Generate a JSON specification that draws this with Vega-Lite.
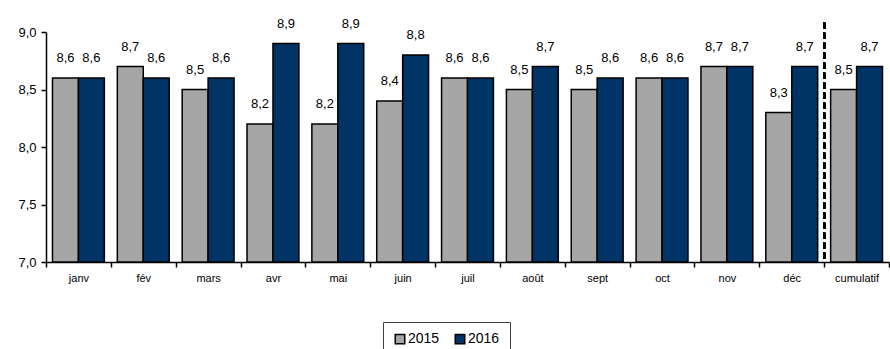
{
  "$schema": "https://vega.github.io/schema/vega-lite/v6.json",
  "width": 843,
  "height": 230,
  "padding": {"left": 46, "top": 32, "right": 1, "bottom": 87},
  "autosize": {"type": "none"},
  "background": "white",
  "config": {
    "locale": {"number": {"decimal": ",", "thousands": " ", "grouping": [3], "currency": ["", " €"]}},
    "font": "Liberation Sans",
    "view": {"stroke": null},
    "axis": {"grid": false, "domainColor": "#000000", "tickColor": "#000000", "labelColor": "#000000", "title": null}
  },
  "data": {
    "values": [
      {"mois": "janv", "annee": "2015", "valeur": 8.6},
      {"mois": "janv", "annee": "2016", "valeur": 8.6},
      {"mois": "fév", "annee": "2015", "valeur": 8.7},
      {"mois": "fév", "annee": "2016", "valeur": 8.6},
      {"mois": "mars", "annee": "2015", "valeur": 8.5},
      {"mois": "mars", "annee": "2016", "valeur": 8.6},
      {"mois": "avr", "annee": "2015", "valeur": 8.2},
      {"mois": "avr", "annee": "2016", "valeur": 8.9},
      {"mois": "mai", "annee": "2015", "valeur": 8.2},
      {"mois": "mai", "annee": "2016", "valeur": 8.9},
      {"mois": "juin", "annee": "2015", "valeur": 8.4},
      {"mois": "juin", "annee": "2016", "valeur": 8.8},
      {"mois": "juil", "annee": "2015", "valeur": 8.6},
      {"mois": "juil", "annee": "2016", "valeur": 8.6},
      {"mois": "août", "annee": "2015", "valeur": 8.5},
      {"mois": "août", "annee": "2016", "valeur": 8.7},
      {"mois": "sept", "annee": "2015", "valeur": 8.5},
      {"mois": "sept", "annee": "2016", "valeur": 8.6},
      {"mois": "oct", "annee": "2015", "valeur": 8.6},
      {"mois": "oct", "annee": "2016", "valeur": 8.6},
      {"mois": "nov", "annee": "2015", "valeur": 8.7},
      {"mois": "nov", "annee": "2016", "valeur": 8.7},
      {"mois": "déc", "annee": "2015", "valeur": 8.3},
      {"mois": "déc", "annee": "2016", "valeur": 8.7},
      {"mois": "cumulatif", "annee": "2015", "valeur": 8.5},
      {"mois": "cumulatif", "annee": "2016", "valeur": 8.7}
    ]
  },
  "encoding": {
    "x": {
      "field": "mois",
      "type": "nominal",
      "sort": null,
      "scale": {"paddingInner": 0, "paddingOuter": 0},
      "axis": {"labelAngle": 0, "labelFontSize": 11, "tickBand": "extent", "tickSize": 5, "labelPadding": 5, "domainWidth": 1.5, "tickWidth": 1.5}
    }
  },
  "layer": [
    {
      "mark": {"type": "bar", "stroke": "#000000", "strokeWidth": 1.5},
      "encoding": {
        "xOffset": {"field": "annee", "type": "nominal", "scale": {"paddingInner": 0, "paddingOuter": 0.25}},
        "y": {
          "field": "valeur",
          "type": "quantitative",
          "scale": {"domain": [7, 9], "zero": false, "nice": false},
          "axis": {"values": [7, 7.5, 8, 8.5, 9], "format": ".1f", "labelFontSize": 13, "tickSize": 5, "labelPadding": 5, "domainWidth": 1.5, "tickWidth": 1.5}
        },
        "y2": {"datum": 7},
        "color": {
          "field": "annee",
          "type": "nominal",
          "scale": {"domain": ["2015", "2016"], "range": ["#A6A6A6", "#003366"]},
          "legend": {
            "title": null,
            "orient": "none",
            "legendX": 337,
            "legendY": 290,
            "direction": "horizontal",
            "symbolType": "square",
            "symbolSize": 90,
            "symbolStrokeColor": "#000000",
            "symbolStrokeWidth": 1.5,
            "labelFontSize": 14,
            "labelColor": "#000000",
            "labelOffset": 1,
            "columnPadding": 12,
            "padding": 10,
            "strokeColor": "#404040"
          }
        }
      }
    },
    {
      "mark": {"type": "text", "fontSize": 13, "baseline": "middle", "dy": -20, "color": "#000000"},
      "encoding": {
        "xOffset": {"field": "annee", "type": "nominal"},
        "y": {"field": "valeur", "type": "quantitative"},
        "text": {"field": "valeur", "type": "quantitative", "format": ".1f"}
      }
    },
    {
      "mark": {"type": "rule", "strokeDash": [6, 4], "strokeWidth": 2, "color": "#000000"},
      "encoding": {
        "x": {"datum": "cumulatif", "bandPosition": 0},
        "y": {"datum": 9.08},
        "y2": {"datum": 7}
      }
    }
  ]
}
